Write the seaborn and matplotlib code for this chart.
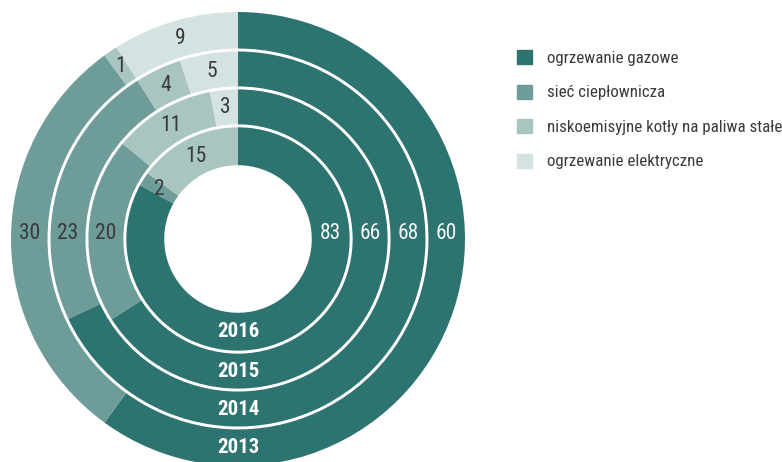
import matplotlib
matplotlib.use("Agg")
import numpy as np
import matplotlib.pyplot as plt
import matplotlib.patches as mpatches
import seaborn as sns

# dane: struktura ogrzewania (%) w kolejnych latach
years = ["2013", "2014", "2015", "2016"]
categories = ["ogrzewanie gazowe", "sieć ciepłownicza",
              "niskoemisyjne kotły na paliwa stałe", "ogrzewanie elektryczne"]
gazowe = [60, 68, 66, 83]
siec = [30, 23, 20, 2]
kotly = [1, 4, 11, 15]
elektryczne = [9, 5, 3, 0]

colors = ["#2d7370", "#6e9c99", "#a9c5c2", "#d4e3e2"]
text_colors = ["#f4f7f7", "#3a3a3a", "#3a3a3a", "#3a3a3a"]

sns.set_theme(style="white")
plt.rcParams["font.family"] = ["Roboto Condensed", "Liberation Sans Narrow",
                               "Roboto", "DejaVu Sans"]

fig = plt.figure(figsize=(7.82, 4.62), dpi=100)
R = 227
ax = fig.add_axes([(238 - R) / 782, (223 - R) / 462, 2 * R / 782, 2 * R / 462])

# pierścienie: zewnętrzny 2013 -> wewnętrzny 2016
outer = [1.0, 0.826, 0.659, 0.492]
widths = [0.161, 0.154, 0.154, 0.167]

for i, year in enumerate(years):
    vals = [gazowe[i], siec[i], kotly[i], elektryczne[i]]
    ax.pie(vals, radius=outer[i], colors=colors, startangle=90, counterclock=False,
           wedgeprops=dict(width=widths[i], linewidth=0))
    rmid = outer[i] - widths[i] / 2
    cum = np.cumsum([0] + vals)
    for j, v in enumerate(vals):
        if v == 0:
            continue
        start, end = cum[j], cum[j + 1]
        if j == 0:
            x, y, va = rmid, 0.0, "baseline"
        elif start < 75 < end:
            x, y, va = -rmid, 0.0, "baseline"
        else:
            a = np.deg2rad(360 * (start + end) / 2 / 100)
            x, y, va = rmid * np.sin(a), rmid * np.cos(a), "center"
        ax.text(x, y, str(v), ha="center", va=va, fontsize=15.5,
                color=text_colors[j])
    ax.text(0, -rmid, year, ha="center", va="center", fontsize=15,
            fontweight="bold", color="white")

ax.set_xlim(-1, 1)
ax.set_ylim(-1, 1)
ax.set_aspect("equal")
ax.axis("off")

handles = [mpatches.Patch(color=c) for c in colors]
fig.legend(handles, categories, loc="upper left",
           bbox_to_anchor=(517 / 782, 1 - 50 / 462), frameon=False,
           fontsize=12.2, handlelength=0.9, handleheight=0.9,
           labelspacing=1.1, handletextpad=0.85, borderpad=0, borderaxespad=0,
           labelcolor="#3a3a3a")

fig.savefig("out.png", dpi=100)
